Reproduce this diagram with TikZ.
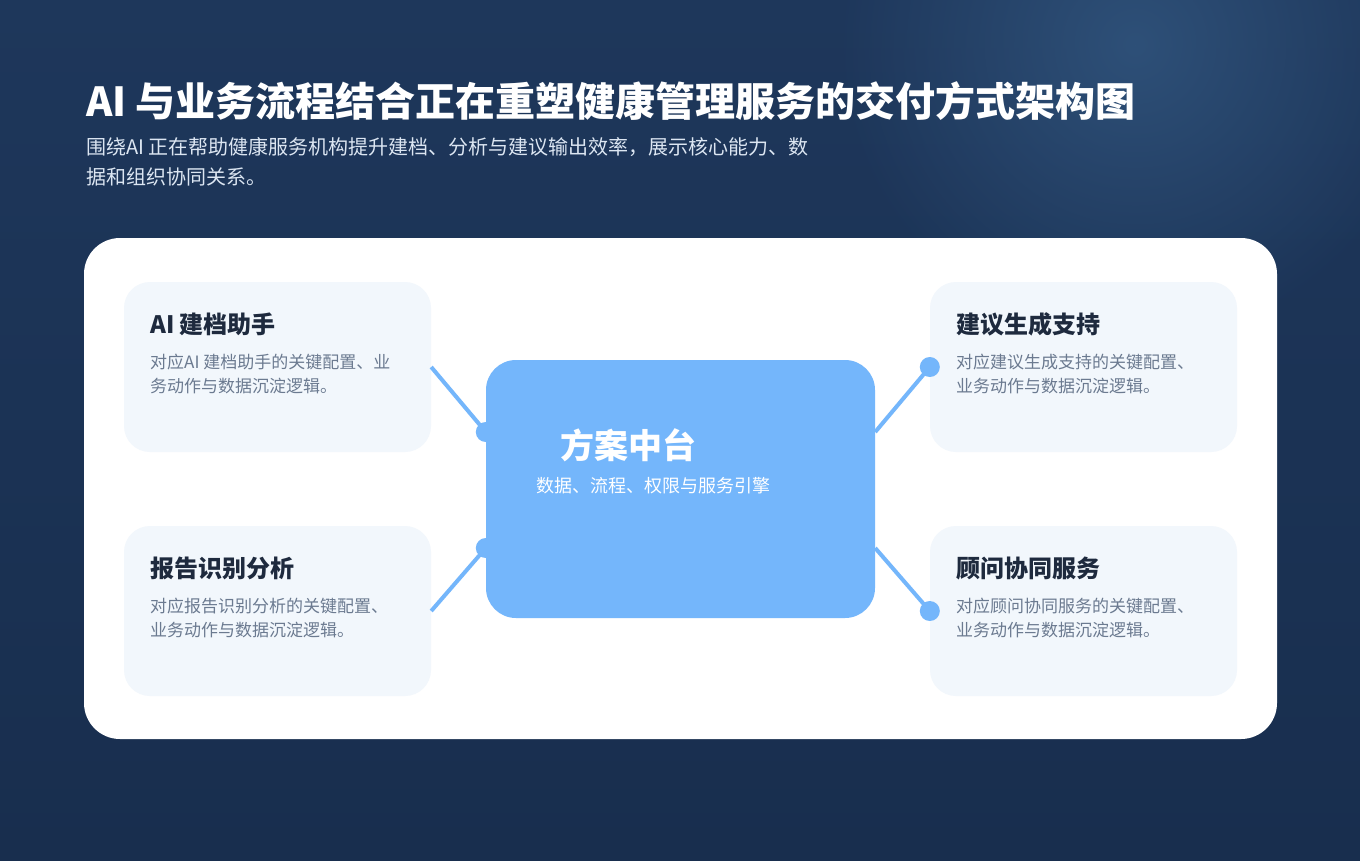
\documentclass[tikz,border=0pt]{standalone}
\usepackage{fontspec}
\setmainfont{Noto Sans CJK SC}
\usetikzlibrary{calc,fadings}

\definecolor{bgtop}{HTML}{1E375B}
\definecolor{bgbot}{HTML}{182E4E}
\definecolor{glowc}{HTML}{2E5078}
\definecolor{cardfill}{HTML}{F2F7FC}
\definecolor{hubfill}{HTML}{74B6FB}
\definecolor{titleink}{HTML}{1E2A3E}
\definecolor{descink}{HTML}{6B7A90}
\definecolor{subink}{HTML}{DCE6F2}

\pgfdeclarelayer{back}
\pgfdeclarelayer{links}
\pgfsetlayers{back,links,main}

\tikzfading[name=glowfade, inner color=transparent!0, outer color=transparent!100]

\tikzset{every picture/.style={line width=0.75pt}}
\tikzset{
  card/.style={fill=cardfill, rounded corners=26pt, inner sep=0pt, minimum width=307pt, minimum height=170pt},
  hubbox/.style={fill=hubfill, rounded corners=30pt, inner sep=0pt, minimum width=389pt, minimum height=258pt},
  cardtitle/.style={anchor=west, inner sep=0pt, text=titleink, font=\fontsize{24}{28}\selectfont\bfseries},
  carddesc/.style={anchor=west, inner sep=0pt, text=descink, align=left, font=\fontsize{17}{24}\selectfont},
  link/.style={draw=hubfill, line width=4pt},
  linkdot/.style={fill=hubfill}
}

\begin{document}
\begin{tikzpicture}[x=1pt,y=1pt,yscale=-1,xscale=1]
	\useasboundingbox (0,0) rectangle (1360,860);

	\begin{pgfonlayer}{back}
	%Background
	\shade [top color=bgtop, bottom color=bgbot] (0,0) rectangle (1360,860);
	\fill [glowc, path fading=glowfade] (1135,45) circle (300);
	%Panel
	\fill [white, rounded corners=36pt] (84,238) rectangle (1277,739);
	%Cards
	\node [card] (archive) at (277.5,367) {};
	\node [card] (report) at (277.5,611) {};
	\node [card] (advice) at (1083.5,367) {};
	\node [card] (consult) at (1083.5,611) {};
	\end{pgfonlayer}

	%Title
	\node [anchor=west, inner sep=0pt, text=white, font=\fontsize{40}{46}\selectfont\bfseries] (title) at (86,101) {AI 与业务流程结合正在重塑健康管理服务的交付方式架构图};
	\node [anchor=west, inner sep=0pt, text=subink, align=left, font=\fontsize{20}{30}\selectfont] (subtitle) at (86,162) {围绕AI 正在帮助健康服务机构提升建档、分析与建议输出效率，展示核心能力、数\\据和组织协同关系。};

	%Hub
	\node [hubbox] (hub) at (680.5,489) {};
	\node [anchor=west, inner sep=0pt, text=white, font=\fontsize{34}{38}\selectfont\bfseries] (hubtitle) at (560,445) {方案中台};
	\node [anchor=west, inner sep=0pt, text=white, font=\fontsize{18}{22}\selectfont] (hubsub) at (536,486) {数据、流程、权限与服务引擎};

	%Links
	\begin{pgfonlayer}{links}
	\draw [link] (archive.east) -- ($(hub.west)+(0,-57)$);
	\fill [linkdot] ($(hub.west)+(0,-57)$) circle (10);
	\draw [link] (report.east) -- ($(hub.west)+(0,59)$);
	\fill [linkdot] ($(hub.west)+(0,59)$) circle (10);
	\draw [link] ($(hub.east)+(0,-57)$) -- (advice.west);
	\fill [linkdot] (advice.west) circle (10);
	\draw [link] ($(hub.east)+(0,59)$) -- (consult.west);
	\fill [linkdot] (consult.west) circle (10);
	\end{pgfonlayer}

	%Card texts
	\node [cardtitle] (archivet) at (150,324) {AI 建档助手};
	\node [carddesc] (archived) at (150,374) {对应AI 建档助手的关键配置、业\\务动作与数据沉淀逻辑。};
	\node [cardtitle] (reportt) at (150,568) {报告识别分析};
	\node [carddesc] (reportd) at (150,618) {对应报告识别分析的关键配置、\\业务动作与数据沉淀逻辑。};
	\node [cardtitle] (advicet) at (956,324) {建议生成支持};
	\node [carddesc] (adviced) at (956,374) {对应建议生成支持的关键配置、\\业务动作与数据沉淀逻辑。};
	\node [cardtitle] (consultt) at (956,568) {顾问协同服务};
	\node [carddesc] (consultd) at (956,618) {对应顾问协同服务的关键配置、\\业务动作与数据沉淀逻辑。};

\end{tikzpicture}
\end{document}
